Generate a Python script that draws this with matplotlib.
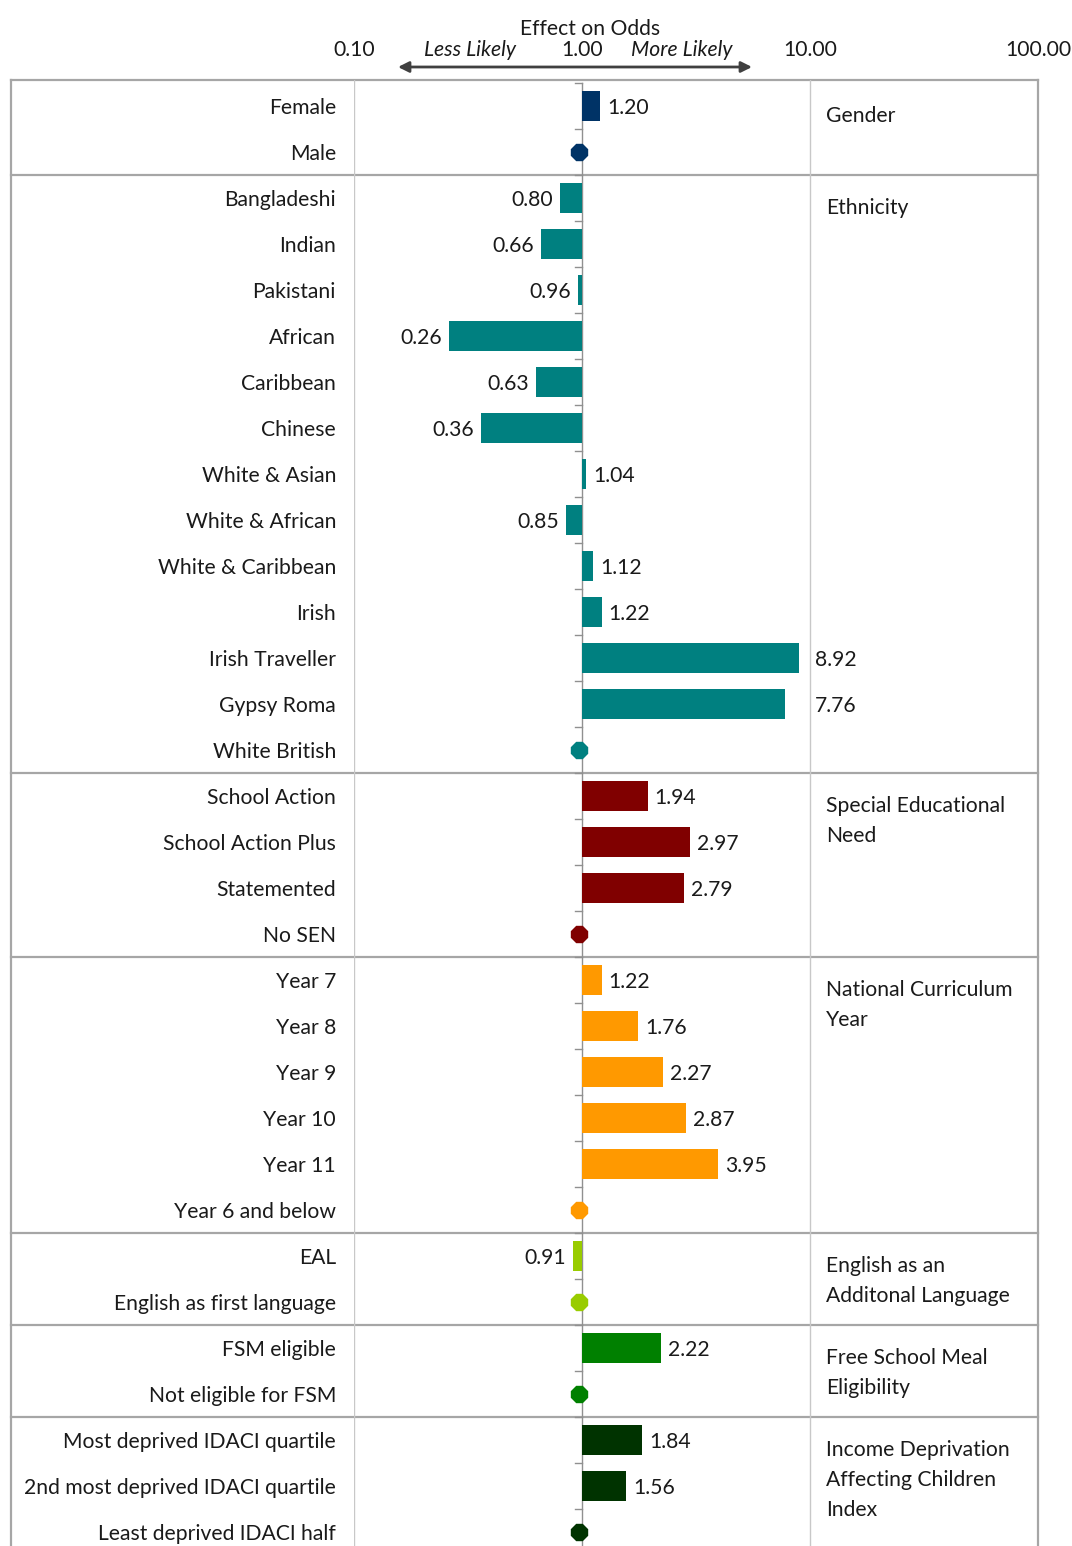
import matplotlib.pyplot as plt
import matplotlib.transforms as mtransforms
import numpy as np

plt.rcParams['font.family'] = ['Lato', 'DejaVu Sans']

# group titles (right column)
group_titles = ["Gender", "Ethnicity", "Special Educational\nNeed",
                "National Curriculum\nYear", "English as an\nAdditonal Language",
                "Free School Meal\nEligibility",
                "Income Deprivation\nAffecting Children\nIndex"]

# category labels per group, reference category last
gender_labels = ["Female", "Male"]
ethnicity_labels = ["Bangladeshi", "Indian", "Pakistani", "African", "Caribbean",
                    "Chinese", "White & Asian", "White & African", "White & Caribbean",
                    "Irish", "Irish Traveller", "Gypsy Roma", "White British"]
sen_labels = ["School Action", "School Action Plus", "Statemented", "No SEN"]
ncy_labels = ["Year 7", "Year 8", "Year 9", "Year 10", "Year 11", "Year 6 and below"]
eal_labels = ["EAL", "English as first language"]
fsm_labels = ["FSM eligible", "Not eligible for FSM"]
idaci_labels = ["Most deprived IDACI quartile", "2nd most deprived IDACI quartile",
                "Least deprived IDACI half"]

# odds ratios (reference category has none)
gender_odds = [1.20]
ethnicity_odds = [0.80, 0.66, 0.96, 0.26, 0.63, 0.36, 1.04, 0.85, 1.12, 1.22, 8.92, 7.76]
sen_odds = [1.94, 2.97, 2.79]
ncy_odds = [1.22, 1.76, 2.27, 2.87, 3.95]
eal_odds = [0.91]
fsm_odds = [2.22]
idaci_odds = [1.84, 1.56]

group_colors = ["#003366", "#008080", "#800000", "#FF9900", "#99CC00", "#008000", "#003300"]

groups = [
    (gender_labels, gender_odds),
    (ethnicity_labels, ethnicity_odds),
    (sen_labels, sen_odds),
    (ncy_labels, ncy_odds),
    (eal_labels, eal_odds),
    (fsm_labels, fsm_odds),
    (idaci_labels, idaci_odds),
]

W, H = 1072, 1546
fig = plt.figure(figsize=(W / 100, H / 100), dpi=100)

# pixel-space overlay for frame and header
frame = fig.add_axes([0, 0, 1, 1])
frame.set_xlim(0, W)
frame.set_ylim(H, 0)
frame.axis("off")

# log-scale plotting area
x0, x1, ytop = 354, 1038, 80
ax = fig.add_axes([x0 / W, 0, (x1 - x0) / W, (H - ytop) / H])
ax.patch.set_alpha(0)
ax.set_xscale("log")
ax.set_xlim(0.1, 100)
n_rows = sum(len(g[0]) for g in groups)
row_px = 46
first_px = 106
ax.set_ylim((H - first_px) / row_px, (ytop - first_px) / row_px)
ax.axis("off")

grid_c = "#A6A6A6"
txt_c = "#1a1a1a"
fs = 15.2

bx = mtransforms.blended_transform_factory(frame.transData, ax.transData)
# row texts sit a touch lower than the row centre
bx_txt = bx + mtransforms.ScaledTranslation(0, -2 / 100, fig.dpi_scale_trans)
dx = mtransforms.blended_transform_factory(ax.transData, frame.transData)

# vertical gridlines at 0.1 and 10 and frame edges
for xv in [0.1, 10]:
    ax.axvline(xv, color="#C8C8C8", lw=1.0, zorder=0)
frame.plot([11, 11], [ytop, H], color=grid_c, lw=1.6)
frame.plot([1038, 1038], [ytop, H], color=grid_c, lw=1.6)
frame.plot([11, 1038], [ytop, ytop], color=grid_c, lw=1.6)

# axis at odds = 1 with small ticks between rows
ax.plot([1, 1], [-0.5, n_rows + 1], color="#909090", lw=1.0, zorder=1)
for b in np.arange(-0.5, n_rows - 0.5, 1.0):
    ax.plot([0.93, 1], [b, b], color="#909090", lw=1.0, zorder=1)

marker_shift = ax.transData + mtransforms.ScaledTranslation(-3 / 100, 0, fig.dpi_scale_trans)
x10 = ax.transData.transform((10, 0))[0]

row = 0
for gi, ((labels, odds), title, col) in enumerate(zip(groups, group_titles, group_colors)):
    start = row
    for j, lab in enumerate(labels):
        frame.text(336, row, lab, transform=bx_txt, ha="right", va="center",
                   fontsize=fs, color=txt_c)
        if j < len(odds):
            v = odds[j]
            ax.barh(row, v - 1, left=1, height=0.67, color=col, zorder=2)
            xpix = ax.transData.transform((v, row))[0]
            if v >= 1:
                lx = xpix + 7
                # keep the label clear of the 10.00 gridline
                if lx + 40 > x10:
                    lx = x10 + 5
                ha = "left"
            else:
                lx = xpix - 7
                ha = "right"
            frame.text(lx, row, f"{v:.2f}", transform=bx_txt, ha=ha, va="center",
                       fontsize=fs, color=txt_c)
        else:
            ax.plot(1, row, marker="8", ms=12.5, color=col, mec=col,
                    transform=marker_shift, zorder=3, clip_on=False)
        row += 1
    # group title
    frame.text(826, start, title, transform=bx, ha="left", va="top",
               fontsize=fs, color=txt_c, linespacing=1.62)
    # separator below group
    if row < n_rows:
        frame.plot([11, 1038], [row - 0.5, row - 0.5], transform=bx,
                   color=grid_c, lw=1.6)

# header
for v, s in zip([0.1, 1, 10, 100], ["0.10", "1.00", "10.00", "100.00"]):
    frame.text(v, 50, s, transform=dx, ha="center", va="center", fontsize=fs, color=txt_c)
frame.text(590, 29, "Effect on Odds", ha="center", va="center", fontsize=fs, color=txt_c)
frame.text(470, 50, "Less Likely", ha="center", va="center", fontsize=fs,
           style="italic", color=txt_c)
frame.text(682, 50, "More Likely", ha="center", va="center", fontsize=fs,
           style="italic", color=txt_c)
frame.annotate("", xy=(398, 67), xytext=(752, 67),
               arrowprops=dict(arrowstyle="<|-|>", color="#404040", lw=2,
                               mutation_scale=16, shrinkA=0, shrinkB=0))

fig.savefig("out.png", dpi=100)
